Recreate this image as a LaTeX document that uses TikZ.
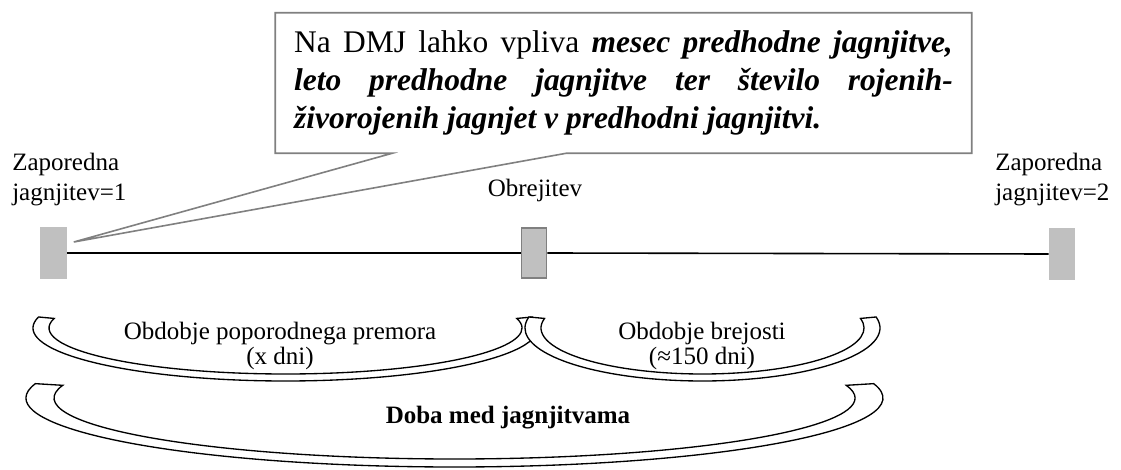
\documentclass[tikz,border=0pt]{standalone}
\usepackage{fontspec}
\setmainfont{Liberation Serif}
\usepackage{tikz}
\usetikzlibrary{calc, positioning, backgrounds}
\definecolor{markgray}{HTML}{C0C0C0}
\definecolor{framegray}{HTML}{808080}

\begin{document}
\begin{tikzpicture}[
  x=0.75pt, y=-0.75pt,
  lbl/.style={inner sep=0pt, align=#1, font=\fontsize{18.75}{22.5}\selectfont},
  lbl/.default=center,
  marker/.style={draw=#1, fill=markgray, minimum width=18.75pt, minimum height=37.5pt, inner sep=0pt, line width=1.2pt},
  band/.style={draw=black, fill=white, line width=1pt},
  frame/.style={draw=framegray, fill=white, line width=1.2pt},
]
\useasboundingbox (0,0) rectangle (1121,470);

% Time line with the three events
\node[marker=markgray] (first) at (53.5,253) {};
\node[marker=framegray] (mating) at (534,253) {};
\node[marker=markgray] (second) at (1062,254) {};
\draw[line width=1.2pt] (first.east) -- (mating.west);
\draw[line width=1.2pt] (mating.east) -- (second.west);

\node[lbl=left, anchor=north west] (lab1) at (12,153) {Zaporedna\\jagnjitev=1};
\node[lbl, anchor=base] (lab2) at (535,197) {Obrejitev};
\node[lbl=left, anchor=north west] (lab3) at (995,153) {Zaporedna\\jagnjitev=2};

% Callout with the influencing factors
\node[inner xsep=14pt, inner ysep=0pt, minimum height=105pt, text width=494pt, align=justify,
  font=\fontsize{23.6}{28.2}\selectfont] (note) at (623.5,83)
  {\hyphenpenalty=10000 Na DMJ lahko vpliva \textbf{\textit{mesec predhodne jagnjitve,\linebreak
   leto predhodne jagnjitve ter število rojenih-\linebreak{}živorojenih jagnjet v predhodni jagnjitvi.}}};
\coordinate (tip) at ($(first.east)+(7,-11)$);
\begin{scope}[on background layer]
\draw[frame] (note.south west) -- ($(note.south west)+(117,0)$) -- (tip)
  -- ($(note.south west)+(291,0)$) -- (note.south east) -- (note.north east)
  -- (note.north west) -- cycle;
\end{scope}

% Curved bands for the periods
\coordinate (c1) at (285.5,328);
\coordinate (c2) at (702.5,328);
\coordinate (c3) at (454.5,398);
\draw[band] ($(c1)+(192:252.5 and 53)$) arc[start angle=192, end angle=-12, x radius=252.5, y radius=53]
  -- ($(c1)+(-12:236.5 and 46)$) arc[start angle=-12, end angle=192, x radius=236.5, y radius=46] -- cycle;
\draw[band] ($(c2)+(192:177.5 and 53)$) arc[start angle=192, end angle=-12, x radius=177.5, y radius=53]
  -- ($(c2)+(-12:161.5 and 46)$) arc[start angle=-12, end angle=192, x radius=161.5, y radius=46] -- cycle;
\draw[band] ($(c3)+(192:428.5 and 69)$) arc[start angle=192, end angle=-12, x radius=428.5, y radius=69]
  -- ($(c3)+(-12:400.5 and 61)$) arc[start angle=-12, end angle=192, x radius=400.5, y radius=61] -- cycle;

\node[lbl, anchor=north, font=\fontsize{18.75}{18.5}\selectfont] (pause) at (280,322) {Obdobje poporodnega premora\\(x dni)};
\node[lbl, anchor=north, font=\fontsize{18.75}{18.5}\selectfont] (preg) at (702,322) {Obdobje brejosti\\(\char"2248 150 dni)};
\node[lbl, anchor=base, font=\fontsize{18.75}{22.5}\selectfont\bfseries] (total) at (508,423) {Doba med jagnjitvama};
\end{tikzpicture}
\end{document}
